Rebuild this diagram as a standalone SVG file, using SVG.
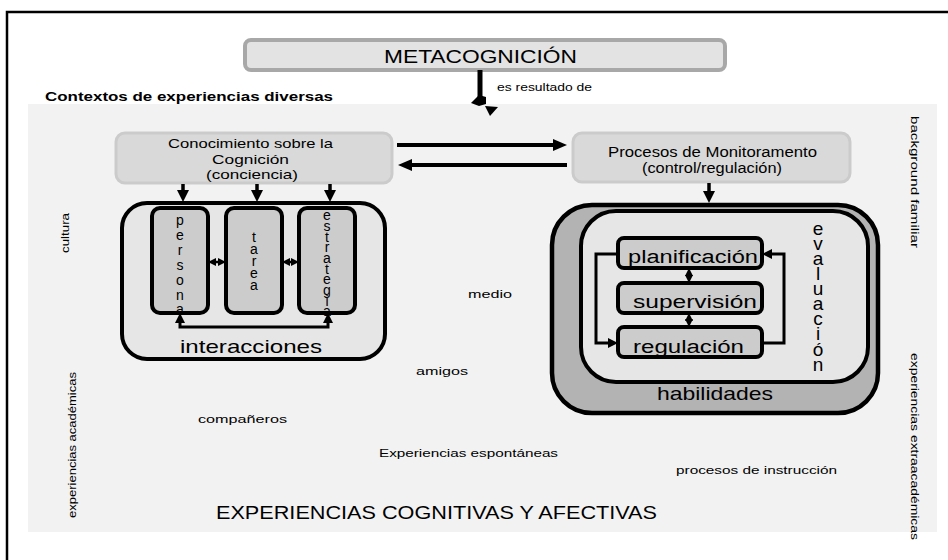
<svg xmlns="http://www.w3.org/2000/svg" width="948" height="560" viewBox="0 0 948 560">
<style>
.t{font-family:"Liberation Sans",Arial,sans-serif;fill:#000}
.v{writing-mode:vertical-rl;text-orientation:upright}
.c{stroke:#000;fill:none}
.box{stroke:#000;stroke-width:4;fill:#cccccc}
</style>
<defs>
<marker id="ah" markerUnits="userSpaceOnUse" viewBox="0 0 14 12" markerWidth="14" markerHeight="12" refX="8" refY="6" orient="auto-start-reverse"><path d="M0,0 L14,6 L0,12 z" fill="#000"/></marker>
<marker id="ad" markerUnits="userSpaceOnUse" viewBox="0 0 12 12" markerWidth="12" markerHeight="12" refX="6" refY="6" orient="auto-start-reverse"><path d="M0,0 L12,6 L0,12 z" fill="#000"/></marker>
<marker id="am" markerUnits="userSpaceOnUse" viewBox="0 0 10 10" markerWidth="10" markerHeight="10" refX="5" refY="5" orient="auto-start-reverse"><path d="M0,0 L10,5 L0,10 z" fill="#000"/></marker>
<marker id="as" markerUnits="userSpaceOnUse" viewBox="0 0 8 8" markerWidth="8" markerHeight="8" refX="4" refY="4" orient="auto-start-reverse"><path d="M0,0 L8,4 L0,8 z" fill="#000"/></marker>
</defs>
<rect x="0" y="0" width="948" height="560" fill="#fff"/>
<rect x="7" y="12" width="1000" height="1000" fill="none" stroke="#000" stroke-width="2.5"/>
<rect id="panel" x="28" y="104" width="909" height="428" fill="#f2f2f2"/>

<g id="meta">
<rect x="245" y="40" width="480" height="30" rx="6" fill="#e3e3e3" stroke="#a8a8a8" stroke-width="4"/>
<text class="t" x="384" y="63" font-size="19" textLength="193" lengthAdjust="spacingAndGlyphs">METACOGNICIÓN</text>
</g>
<g id="contextos"><text class="t" x="45" y="101" font-size="13" font-weight="bold" textLength="288" lengthAdjust="spacingAndGlyphs">Contextos de experiencias diversas</text></g>

<g id="conocimiento">
<rect x="116" y="133" width="276" height="50" rx="9" fill="#d9d9d9" stroke="#cbcbcb" stroke-width="3"/>
<text class="t" x="168" y="148" font-size="13" textLength="165" lengthAdjust="spacingAndGlyphs">Conocimiento sobre la</text>
<text class="t" x="212" y="163.5" font-size="13" textLength="77" lengthAdjust="spacingAndGlyphs">Cognición</text>
<text class="t" x="206" y="179" font-size="13" textLength="92" lengthAdjust="spacingAndGlyphs">(conciencia)</text>
</g>
<g id="procesos">
<rect x="573" y="133" width="277" height="49" rx="9" fill="#d9d9d9" stroke="#cbcbcb" stroke-width="3"/>
<text class="t" x="608" y="157" font-size="14" textLength="209" lengthAdjust="spacingAndGlyphs">Procesos de Monitoramento</text>
<text class="t" x="642" y="173" font-size="14" textLength="140" lengthAdjust="spacingAndGlyphs">(control/regulación)</text>
</g>

<g id="interacciones">
<rect x="122" y="203" width="263" height="156" rx="25" fill="#e6e6e6" stroke="#000" stroke-width="4"/>
<text class="t" x="180" y="353" font-size="19" textLength="142" lengthAdjust="spacingAndGlyphs">interacciones</text>
</g>
<g id="persona">
<rect class="box" x="152" y="208" width="56" height="105" rx="8"/>
<text class="t v" x="180" y="212.3" font-size="14" letter-spacing="-1.14">persona</text>
</g>
<g id="tarea">
<rect class="box" x="226" y="208" width="56" height="105" rx="8"/>
<text class="t v" x="254" y="229.3" font-size="14" letter-spacing="-4.14">tarea</text>
</g>
<g id="estrategia">
<rect class="box" x="299" y="208" width="56" height="105" rx="8"/>
<text class="t v" x="327" y="207.3" font-size="14" letter-spacing="-5.34">estrategia</text>
</g>

<g id="habilidades">
<rect x="552" y="205" width="326" height="208" rx="40" fill="#b3b3b3" stroke="#000" stroke-width="4.5"/>
<text class="t" x="657" y="400" font-size="19" textLength="116" lengthAdjust="spacingAndGlyphs">habilidades</text>
</g>
<g id="evaluacion">
<rect x="581" y="211" width="287" height="171" rx="35" fill="#e6e6e6" stroke="#000" stroke-width="4"/>
<text class="t v" x="818" y="217.8" font-size="19" letter-spacing="-5.9">evaluación</text>
</g>
<g id="planificacion">
<rect class="box" x="618" y="238" width="144" height="30" rx="6"/>
<text class="t" x="628" y="263" font-size="18" textLength="130" lengthAdjust="spacingAndGlyphs">planificación</text>
</g>
<g id="supervision">
<rect class="box" x="618" y="283" width="144" height="30" rx="6"/>
<text class="t" x="633" y="308" font-size="18" textLength="124" lengthAdjust="spacingAndGlyphs">supervisión</text>
</g>
<g id="regulacion">
<rect class="box" x="618" y="327" width="144" height="30" rx="6"/>
<text class="t" x="633" y="353" font-size="18" textLength="111" lengthAdjust="spacingAndGlyphs">regulación</text>
</g>

<g id="labels" class="t" font-size="11">
<text x="497" y="91" font-size="10" textLength="95" lengthAdjust="spacingAndGlyphs">es resultado de</text>
<text x="468" y="298" textLength="44" lengthAdjust="spacingAndGlyphs">medio</text>
<text x="416" y="375" textLength="52" lengthAdjust="spacingAndGlyphs">amigos</text>
<text x="198" y="423" textLength="89" lengthAdjust="spacingAndGlyphs">compañeros</text>
<text x="379" y="457" textLength="179" lengthAdjust="spacingAndGlyphs">Experiencias espontáneas</text>
<text x="676" y="474" textLength="161" lengthAdjust="spacingAndGlyphs">procesos de instrucción</text>
<text x="216" y="519" font-size="18" textLength="441" lengthAdjust="spacingAndGlyphs">EXPERIENCIAS COGNITIVAS Y AFECTIVAS</text>
<text transform="translate(69,233) rotate(-90)" x="-20" y="0" textLength="40" lengthAdjust="spacingAndGlyphs">cultura</text>
<text transform="translate(76,445) rotate(-90)" x="-73" y="0" textLength="146" lengthAdjust="spacingAndGlyphs">experiencias académicas</text>
<text transform="translate(911,182) rotate(90)" x="-66" y="0" textLength="132" lengthAdjust="spacingAndGlyphs">background familiar</text>
<text transform="translate(911,446) rotate(90)" x="-93" y="0" textLength="187" lengthAdjust="spacingAndGlyphs">experiencias extraacadémicas</text>
</g>

<g id="connectors">
<path class="c" stroke-width="5" d="M480,70 V98"/>
<polygon points="471,103 479,95 486,97 486,104 479,106" fill="#000"/>
<polygon points="485,106 498,107 490,116" fill="#000"/>
<path class="c" stroke-width="4" d="M397,145 H561" marker-end="url(#ah)"/>
<path class="c" stroke-width="4" d="M567,165 H404" marker-end="url(#ah)"/>
<path class="c" stroke-width="3.5" d="M183,184 V196" marker-end="url(#ad)"/>
<path class="c" stroke-width="3.5" d="M257,184 V196" marker-end="url(#ad)"/>
<path class="c" stroke-width="3.5" d="M330,184 V196" marker-end="url(#ad)"/>
<path class="c" stroke-width="3.5" d="M709,183 V197" marker-end="url(#ad)"/>
<path class="c" stroke-width="2.5" d="M212,262 H222" marker-start="url(#as)" marker-end="url(#as)"/>
<path class="c" stroke-width="2.5" d="M286,262 H295" marker-start="url(#as)" marker-end="url(#as)"/>
<path class="c" stroke-width="3" d="M180,318 V327 H328 V318" marker-start="url(#am)" marker-end="url(#am)"/>
<path class="c" stroke-width="2.5" d="M689,272 V279" marker-start="url(#as)" marker-end="url(#as)"/>
<path class="c" stroke-width="2.5" d="M689,317 V323" marker-start="url(#as)" marker-end="url(#as)"/>
<path class="c" stroke-width="3" d="M618,254 H596 V343 H613" marker-end="url(#am)"/>
<path class="c" stroke-width="3" d="M762,343 H784 V254 H767" marker-end="url(#am)"/>
</g>
</svg>
